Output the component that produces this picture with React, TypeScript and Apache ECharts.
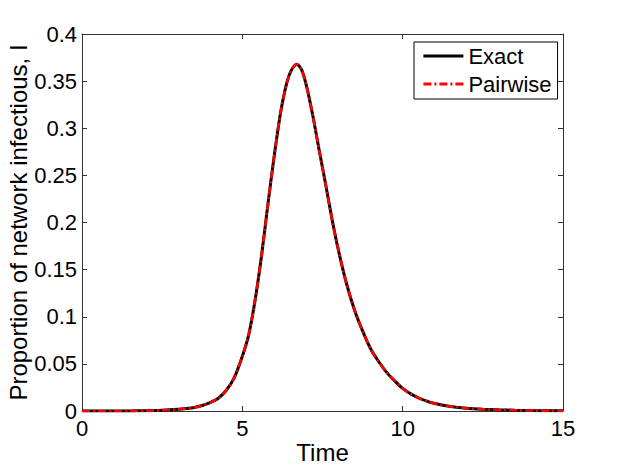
import React, { useEffect, useRef } from "react";
import * as echarts from "echarts";

const times = [0, 0.5, 1, 1.5, 2, 2.5, 3.0, 3.25, 3.5, 3.75, 4.0, 4.25, 4.5, 4.75, 5.0, 5.2, 5.4, 5.6, 5.8, 6.0, 6.2, 6.4, 6.55, 6.7, 6.85, 7.0, 7.2, 7.4, 7.6, 7.8, 8.0, 8.25, 8.5, 8.75, 9.0, 9.25, 9.5, 9.75, 10.0, 10.25, 10.5, 10.75, 11.0, 11.5, 12.0, 12.5, 13.0, 13.5, 14.0, 14.5, 15.0];
const exactValues = [0, 0, 0, 0.0001, 0.0003, 0.0008, 0.0018, 0.0026, 0.0037, 0.0058, 0.009, 0.0135, 0.022, 0.0355, 0.058, 0.081, 0.118, 0.165, 0.22, 0.272, 0.318, 0.35, 0.363, 0.368, 0.362, 0.345, 0.313, 0.276, 0.24, 0.203, 0.17, 0.135, 0.107, 0.085, 0.066, 0.0525, 0.041, 0.032, 0.024, 0.0182, 0.0138, 0.0105, 0.008, 0.0048, 0.0029, 0.0019, 0.0012, 0.0008, 0.0005, 0.0003, 0.0002];
const pairwiseValues = [0, 0, 0, 0.0001, 0.0003, 0.0008, 0.0018, 0.0026, 0.0037, 0.0058, 0.009, 0.0135, 0.022, 0.0355, 0.058, 0.081, 0.118, 0.165, 0.22, 0.272, 0.318, 0.35, 0.363, 0.368, 0.362, 0.345, 0.313, 0.276, 0.24, 0.203, 0.17, 0.135, 0.107, 0.085, 0.066, 0.0525, 0.041, 0.032, 0.024, 0.0182, 0.0138, 0.0105, 0.008, 0.0048, 0.0029, 0.0019, 0.0012, 0.0008, 0.0005, 0.0003, 0.0002];
const seriesNames = ["Exact", "Pairwise"];
const xTitle = "Time";
const yTitle = "Proportion of network infectious, I";

const FONT = "'Liberation Sans', Arial, Helvetica, sans-serif";
const AXIS_COLOR = "#333";

export default function App() {
  const ref = useRef<HTMLDivElement>(null);
  useEffect(() => {
    if (!ref.current) return;
    const chart = echarts.init(ref.current, null, { renderer: "svg" });
    const toPairs = (vals: number[]) => times.map((t, i) => [t, vals[i]]);
    const tickCommon = { show: true, inside: true, length: 5, lineStyle: { color: AXIS_COLOR, width: 1 } };
    const lineCommon = { show: true, onZero: false, lineStyle: { color: AXIS_COLOR, width: 1 } };
    chart.setOption({
      animation: false,
      backgroundColor: "#fff",
      textStyle: { fontFamily: FONT },
      grid: { left: 82, right: 59, top: 34, bottom: 57, containLabel: false, outerBoundsMode: "none" },
      legend: {
        show: true,
        orient: "vertical",
        left: 414,
        top: 42,
        data: seriesNames,
        itemWidth: 40,
        itemHeight: 14,
        itemGap: 6,
        padding: [3, 6, 4, 8],
        borderColor: "#000",
        borderWidth: 1,
        backgroundColor: "#fff",
        itemStyle: { opacity: 0 },
        lineStyle: { width: 2.8 },
        textStyle: { fontFamily: FONT, fontSize: 22, color: "#000" },
      },
      xAxis: [
        {
          type: "value",
          min: 0,
          max: 15,
          interval: 5,
          position: "bottom",
          name: xTitle,
          nameLocation: "middle",
          nameGap: 29,
          nameMoveOverlap: false,
          nameTextStyle: { fontFamily: FONT, fontSize: 24, color: "#000" },
          axisLine: lineCommon,
          axisTick: tickCommon,
          axisLabel: { fontFamily: FONT, fontSize: 22, color: "#000", margin: 6 },
          splitLine: { show: false },
        },
        {
          type: "value",
          min: 0,
          max: 15,
          interval: 5,
          position: "top",
          axisLine: lineCommon,
          axisTick: tickCommon,
          axisLabel: { show: false },
          splitLine: { show: false },
        },
      ],
      yAxis: [
        {
          type: "value",
          min: 0,
          max: 0.4,
          interval: 0.05,
          position: "left",
          name: yTitle,
          nameLocation: "middle",
          nameGap: 52,
          nameMoveOverlap: false,
          nameTextStyle: { fontFamily: FONT, fontSize: 24, color: "#000" },
          axisLine: lineCommon,
          axisTick: tickCommon,
          axisLabel: { fontFamily: FONT, fontSize: 22, color: "#000", margin: 5 },
          splitLine: { show: false },
        },
        {
          type: "value",
          min: 0,
          max: 0.4,
          interval: 0.05,
          position: "right",
          axisLine: lineCommon,
          axisTick: tickCommon,
          axisLabel: { show: false },
          splitLine: { show: false },
        },
      ],
      series: [
        {
          name: seriesNames[0],
          type: "line",
          data: toPairs(exactValues),
          showSymbol: false,
          symbol: "none",
          smooth: 0.25,
          color: "#000",
          lineStyle: { color: "#000", width: 3 },
          z: 2,
        },
        {
          name: seriesNames[1],
          type: "line",
          data: toPairs(pairwiseValues),
          showSymbol: false,
          symbol: "none",
          smooth: 0.25,
          color: "#ff0000",
          lineStyle: { color: "#ff0000", width: 2.6, type: [8, 3, 2, 3] },
          z: 3,
        },
      ],
    });
    return () => chart.dispose();
  }, []);
  return (
    <div
      ref={ref}
      style={{ position: "absolute", left: 0, top: 0, width: 622, height: 468, background: "#fff" }}
    />
  );
}
